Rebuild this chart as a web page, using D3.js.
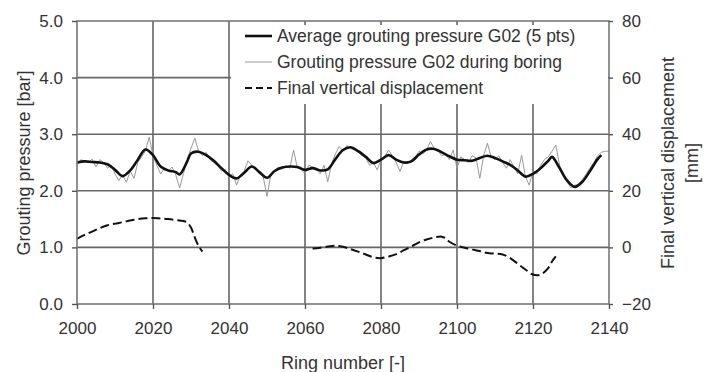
<!DOCTYPE html>
<html>
<head>
<meta charset="utf-8">
<script src="https://cdn.jsdelivr.net/npm/d3@7"></script>
<style>
  body { margin: 0; background: #fff; }
  text { font-family: "Liberation Sans", Arial, sans-serif; fill: #333; }
</style>
</head>
<body>
<script>
// ring numbers for raw pressure (one reading per ring)
var rawRings = d3.range(2000, 2141);
var rawPressure = [
  2.45, 2.55, 2.52, 2.50, 2.56, 2.42, 2.55, 2.50, 2.40, 2.45,
  2.30, 2.18, 2.28, 2.15, 2.35, 2.22, 2.50, 2.60, 2.70, 2.95,
  2.62, 2.45, 2.30, 2.40, 2.35, 2.42, 2.28, 2.05, 2.30, 2.55,
  2.75, 2.93, 2.70, 2.62, 2.68, 2.55, 2.50, 2.45, 2.35, 2.38,
  2.25, 2.30, 2.10, 2.28, 2.35, 2.53, 2.45, 2.38, 2.30, 2.25,
  1.90, 2.28, 2.35, 2.42, 2.38, 2.45, 2.40, 2.72, 2.40, 2.38,
  2.30, 2.45, 2.42, 2.38, 2.30, 2.45, 2.16, 2.48, 2.65, 2.78,
  2.70, 2.80, 2.75, 2.72, 2.68, 2.62, 2.58, 2.45, 2.50, 2.37,
  2.55, 2.60, 2.72, 2.62, 2.50, 2.34, 2.52, 2.48, 2.55, 2.60,
  2.70, 2.65, 2.72, 2.87, 2.75, 2.70, 2.62, 2.65, 2.55, 2.72,
  2.40, 2.60, 2.55, 2.50, 2.62, 2.58, 2.22, 2.62, 2.84, 2.60,
  2.55, 2.62, 2.50, 2.40, 2.55, 2.42, 2.30, 2.63, 2.25, 2.10,
  2.35, 2.30, 2.45, 2.55, 2.60, 2.70, 2.81, 2.45, 2.30, 2.15,
  2.05, 2.10, 2.12, 2.20, 2.30, 2.40, 2.50, 2.62, 2.68, 2.70,
  2.70
];

// average pressure (5 pts)
var avgRings = [2000,2002,2004,2006,2008,2010,2012,2014,2016,2018,2020,2022,2024,2026,2027,2029,2030,2032,2034,2036,2038,2040,2042,2044,2046,2048,2050,2052,2054,2056,2058,2060,2062,2064,2066,2068,2070,2072,2074,2076,2078,2080,2082,2084,2086,2088,2090,2092,2094,2096,2098,2100,2102,2104,2106,2108,2110,2112,2114,2116,2118,2120,2122,2124,2125,2127,2129,2131,2133,2135,2137,2138];
var avgPressure = [2.50,2.52,2.51,2.50,2.47,2.37,2.26,2.36,2.55,2.73,2.63,2.43,2.36,2.33,2.29,2.52,2.66,2.69,2.63,2.53,2.40,2.28,2.22,2.32,2.43,2.33,2.23,2.35,2.41,2.43,2.42,2.37,2.40,2.36,2.38,2.56,2.72,2.77,2.70,2.60,2.49,2.55,2.63,2.55,2.50,2.52,2.64,2.73,2.74,2.68,2.61,2.55,2.54,2.53,2.58,2.62,2.58,2.52,2.46,2.36,2.25,2.30,2.40,2.53,2.60,2.40,2.18,2.07,2.16,2.35,2.56,2.63];

// final vertical displacement [mm], null = no data
var dispRings = [2000,2002,2004,2006,2008,2010,2012,2014,2016,2018,2020,2022,2024,2026,2028,2029,2030,2031,2032,2033,2047,2062,2064,2066,2068,2070,2072,2074,2076,2078,2080,2082,2084,2086,2088,2090,2092,2094,2096,2097,2098,2100,2102,2104,2106,2108,2110,2112,2114,2116,2118,2120,2122,2124,2125,2126];
var dispValues = [3.0,4.4,5.6,6.8,7.8,8.4,8.9,9.5,10.0,10.3,10.4,10.2,10.0,9.7,9.3,8.8,7.0,3.5,0.5,-1.5,null,-0.4,-0.1,0.3,0.6,0.2,-0.6,-1.5,-2.5,-3.5,-3.8,-3.2,-2.4,-1.0,0.3,1.8,2.8,3.5,3.8,3.2,2.0,0.6,-0.1,-0.7,-1.3,-2.0,-2.2,-2.5,-3.8,-5.8,-7.8,-9.6,-9.6,-7.3,-5.0,-3.2];

var xTicks = [2000,2020,2040,2060,2080,2100,2120,2140];
var yTicks = [0,1,2,3,4,5];
var y2Ticks = [-20,0,20,40,60,80];
var legendLabels = ["Average grouting pressure G02 (5 pts)", "Grouting pressure G02 during boring", "Final vertical displacement"];

var W = 716, H = 372;
var margin = {left:77, right:107, top:21, bottom:68};
var w = W - margin.left - margin.right;
var h = H - margin.top - margin.bottom;

var x = d3.scaleLinear().domain([2000,2140]).range([0,w]);
var y = d3.scaleLinear().domain([0,5]).range([h,0]);
var y2 = d3.scaleLinear().domain([-20,80]).range([h,0]);

var svg = d3.select("body").append("svg").attr("width",W).attr("height",H);
var g = svg.append("g").attr("transform","translate("+margin.left+","+margin.top+")");

// grid
g.selectAll(".hg").data(yTicks.slice(1,5)).enter().append("line")
  .attr("x1",0).attr("x2",w).attr("y1",d=>y(d)).attr("y2",d=>y(d))
  .attr("stroke","#666").attr("stroke-width",1.6);
g.selectAll(".vg").data(xTicks.slice(1,7)).enter().append("line")
  .attr("x1",d=>x(d)).attr("x2",d=>x(d)).attr("y1",0).attr("y2",h)
  .attr("stroke","#666").attr("stroke-width",1.6);

// legend background hides grid
var lx = x(2040)+2, ly = 4;
g.append("rect").attr("x",lx).attr("y",ly).attr("width",w-lx-1).attr("height",79).attr("fill","#fff");

var rawLine = d3.line().x((d,i)=>x(rawRings[i])).y(d=>y(d));
g.append("path").attr("d",rawLine(rawPressure)).attr("fill","none").attr("stroke","#999").attr("stroke-width",1);

var avgLine = d3.line().x((d,i)=>x(avgRings[i])).y(d=>y(d)).curve(d3.curveCatmullRom);
g.append("path").attr("d",avgLine(avgPressure)).attr("fill","none").attr("stroke","#111").attr("stroke-width",2.6);

var dispLine = d3.line().defined(d=>d!==null).x((d,i)=>x(dispRings[i])).y(d=>y2(d)).curve(d3.curveCatmullRom);
g.append("path").attr("d",dispLine(dispValues)).attr("fill","none").attr("stroke","#111").attr("stroke-width",2).attr("stroke-dasharray","9,4");

// legend
var lg = g.append("g").attr("transform","translate("+(lx+14)+","+ly+")");
var styles = [{c:"#111",sw:2.6,da:null},{c:"#999",sw:1,da:null},{c:"#111",sw:2,da:"7,4"}];
legendLabels.forEach(function(t,i){
  var yy = 11 + i*26;
  lg.append("line").attr("x1",0).attr("x2",27).attr("y1",yy).attr("y2",yy)
    .attr("stroke",styles[i].c).attr("stroke-width",styles[i].sw).attr("stroke-dasharray",styles[i].da);
  lg.append("text").attr("x",32).attr("y",yy+6).style("font-size","17.5px").text(t);
});

// border
g.append("rect").attr("x",0).attr("y",0).attr("width",w).attr("height",h)
  .attr("fill","none").attr("stroke","#777").attr("stroke-width",1.6);

function styleAxis(sel){
  sel.select(".domain").remove();
  sel.selectAll("line").attr("stroke","#555").attr("stroke-width",1.4);
  sel.selectAll("text").style("font-size","17px").style("font-family","Liberation Sans, Arial, sans-serif").attr("fill","#333");
}

g.append("g").attr("transform","translate(0,"+h+")")
  .call(d3.axisBottom(x).tickValues(xTicks).tickFormat(d3.format("d")).tickSize(5).tickPadding(13))
  .call(styleAxis);
g.append("g")
  .call(d3.axisLeft(y).tickValues(yTicks).tickFormat(d3.format(".1f")).tickSize(5).tickPadding(9))
  .call(styleAxis);
g.append("g").attr("transform","translate("+w+",0)")
  .call(d3.axisRight(y2).tickValues(y2Ticks).tickFormat(d3.format("d")).tickSize(4).tickPadding(9))
  .call(styleAxis);

// titles
svg.append("text").attr("x",margin.left+w/2).attr("y",369).attr("text-anchor","middle")
  .style("font-size","18px").text("Ring number [-]");
svg.append("text").attr("transform","translate(30,163) rotate(-90)").attr("text-anchor","middle")
  .style("font-size","18px").text("Grouting pressure [bar]");
svg.append("text").attr("transform","translate(674,163) rotate(-90)").attr("text-anchor","middle")
  .style("font-size","18px").text("Final vertical displacement");
svg.append("text").attr("transform","translate(698,163) rotate(-90)").attr("text-anchor","middle")
  .style("font-size","18px").text("[mm]");
</script>
</body>
</html>
